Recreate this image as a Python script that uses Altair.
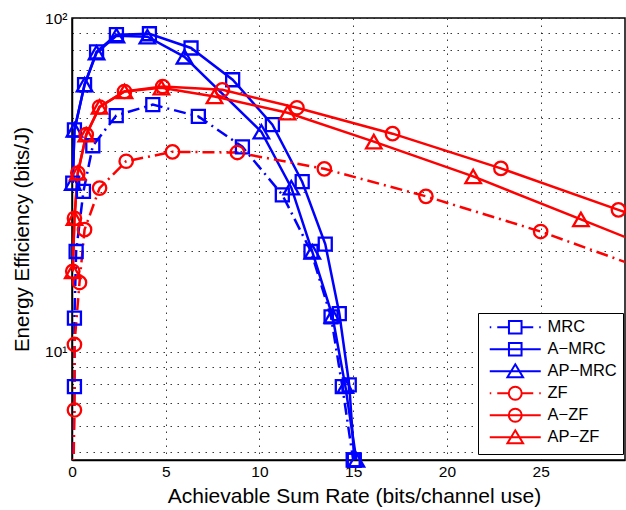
import altair as alt
import pandas as pd

SERIES = ["MRC", "A−MRC", "AP−MRC", "ZF", "A−ZF", "AP−ZF"]
COLORS = ["#0000ff", "#0000ff", "#0000ff", "#ff0000", "#ff0000", "#ff0000"]
BLUE = "#0000ff"
RED = "#ff0000"

MRC_X = [0.02, 0.13, 0.13, 0.22, 0.61, 1.11, 2.36, 4.31, 6.74, 9.09, 11.22, 12.75, 13.82, 14.42, 15.0]
MRC_Y = [3.0, 7.85, 12.6, 19.95, 30.2, 41.4, 51.0, 55.0, 50.7, 41.1, 29.5, 19.95, 12.7, 7.85, 4.73]

A_MRC_X = [0.04, 0.13, 0.67, 1.31, 2.37, 4.13, 6.35, 8.57, 10.69, 12.28, 13.51, 14.26, 14.79, 15.06]
A_MRC_Y = [32.0, 46.2, 63.1, 79.2, 89.1, 89.7, 81.3, 65.3, 47.9, 32.3, 21.0, 13.0, 7.94, 4.73]

AP_MRC_X = [0.04, 0.13, 0.67, 1.31, 2.37, 4.02, 6.0, 10.1, 11.7, 12.82, 13.89, 14.58, 15.17]
AP_MRC_Y = [32.0, 46.2, 63.1, 78.7, 88.5, 87.9, 76.5, 45.6, 31.0, 19.9, 12.8, 7.88, 4.73]

ZF_X = [0.03, 0.13, 0.13, 0.4, 0.67, 1.47, 2.89, 5.36, 8.82, 13.46, 18.88, 25.0, 31.5]
ZF_Y = [3.0, 6.68, 10.5, 16.1, 23.2, 30.9, 37.2, 39.7, 39.5, 35.3, 29.2, 22.9, 16.9]

A_ZF_X = [0.04, 0.13, 0.31, 0.76, 1.47, 2.8, 4.84, 8.02, 12.0, 17.1, 22.88, 29.15, 35.0]
A_ZF_Y = [17.4, 25.1, 34.3, 44.7, 54.1, 60.2, 62.3, 60.9, 53.8, 45.0, 35.4, 26.6, 20.3]

AP_ZF_X = [0.04, 0.13, 0.31, 0.76, 1.47, 2.8, 4.77, 7.6, 11.5, 16.1, 21.4, 27.15, 33.0]
AP_ZF_Y = [17.4, 25.1, 34.3, 44.7, 54.1, 60.2, 61.8, 58.2, 52.0, 42.6, 33.5, 24.9, 18.4]

X_TICKS = [0, 5, 10, 15, 20, 25]
Y_GRID = [5, 6, 7, 8, 9, 10, 20, 30, 40, 50, 60, 70, 80, 90, 100]

DASHDOT_PATTERN = [12, 5, 2, 5]

# legend symbols: line + marker (custom SVG paths, unit = 6 px)
SQ = "M-1.05,-1.05H1.05V1.05H-1.05Z"
CI = "M1.08,0A1.08,1.08,0,1,1,-1.08,0A1.08,1.08,0,1,1,1.08,0Z"
TR = "M0,-1.15L1.3,1.0L-1.3,1.0Z"
SOLID = "M-4.25,0H4.25"
DASHDOT = "M-4.25,0H-4.0M-3.0,0H-1.05M1.05,0H3.0M4.0,0H4.25"
LEG_PATHS = [DASHDOT + SQ, SOLID + SQ, SOLID + TR, DASHDOT + CI, SOLID + CI, SOLID + TR]

rows = []
for name, xs, ys in [
    ("MRC", MRC_X, MRC_Y), ("A−MRC", A_MRC_X, A_MRC_Y), ("AP−MRC", AP_MRC_X, AP_MRC_Y),
    ("ZF", ZF_X, ZF_Y), ("A−ZF", A_ZF_X, A_ZF_Y), ("AP−ZF", AP_ZF_X, AP_ZF_Y),
]:
    for i, (x, y) in enumerate(zip(xs, ys)):
        rows.append({"series": name, "x": x, "y": y, "i": i})
df = pd.DataFrame(rows)

FONT = "Liberation Sans"

xsc = alt.Scale(domain=[0, 29.5], nice=False, zero=False)
ysc = alt.Scale(type="log", domain=[4.73, 100], nice=False)

xaxis = alt.Axis(values=X_TICKS, grid=True, gridDash=[1.5, 5.5], gridColor="#222222", gridOpacity=0.9,
                 ticks=False, labelFont=FONT, labelFontSize=15.5, labelColor="black", labelPadding=4,
                 labelFlush=False, domainColor="black", domainWidth=1.5,
                 title="Achievable Sum Rate (bits/channel use)", titleFont=FONT, titleFontSize=21,
                 titleFontWeight="normal", titleColor="black", titlePadding=6, titleX=282)
yaxis = alt.Axis(values=Y_GRID, grid=True, gridDash=[1.5, 5.5], gridColor="#222222", gridOpacity=0.9,
                 ticks=False, labelFont=FONT, labelFontSize=15.5, labelColor="black", labelPadding=5,
                 labelFlush=False, labelOverlap=False, domainColor="black", domainWidth=1.5,
                 labelExpr="datum.value == 10 ? '10¹' : (datum.value == 100 ? '10²' : '')",
                 title="Energy Efficiency (bits/J)", titleFont=FONT, titleFontSize=20.5,
                 titleFontWeight="normal", titleColor="black", titlePadding=12)

X = alt.X("x:Q", scale=xsc, axis=xaxis)
Y = alt.Y("y:Q", scale=ysc, axis=yaxis)


def line_layer(names, col, dash=None):
    props = dict(clip=True, strokeWidth=2.5, color=col)
    if dash is not None:
        props["strokeDash"] = dash
    return alt.Chart(df).transform_filter(
        alt.FieldOneOfPredicate(field="series", oneOf=names)
    ).mark_line(**props).encode(x=X, y=Y, detail="series:N", order="i:Q")


pts = alt.Chart(df).transform_filter("datum.x <= 29.5 && datum.y >= 4.7")


def marker_layer(names, shape, size, col):
    return pts.transform_filter(alt.FieldOneOfPredicate(field="series", oneOf=names)).mark_point(
        shape=shape, size=size, filled=False, strokeWidth=2.3, opacity=1, clip=False, color=col
    ).encode(x=X, y=Y)


legend_args = dict(title=None, orient="none", legendX=406, legendY=295, fillColor="white",
                   strokeColor="black", padding=6, symbolOffset=23, symbolSize=144,
                   symbolStrokeWidth=2, labelFont=FONT, labelFontSize=16.5, labelColor="black",
                   rowPadding=0, labelOffset=24, labelLimit=300)

# legend-only layer: its points lie beyond the x range and are clipped away
leg = alt.Chart(df).transform_filter("datum.x > 30").mark_point(
    filled=False, strokeWidth=2, opacity=1, clip=True
).encode(
    x=X, y=Y,
    color=alt.Color("series:N", scale=alt.Scale(domain=SERIES, range=COLORS),
                    legend=alt.Legend(**legend_args)),
    shape=alt.Shape("series:N", scale=alt.Scale(domain=SERIES, range=LEG_PATHS),
                    legend=alt.Legend(**legend_args)),
)

chart = alt.layer(
    line_layer(["MRC"], BLUE, DASHDOT_PATTERN),
    line_layer(["A−MRC", "AP−MRC"], BLUE),
    line_layer(["ZF"], RED, DASHDOT_PATTERN),
    line_layer(["A−ZF", "AP−ZF"], RED),
    marker_layer(["MRC", "A−MRC"], "square", 169, BLUE),
    marker_layer(["AP−MRC"], "triangle-up", 240, BLUE),
    marker_layer(["ZF", "A−ZF"], "circle", 180, RED),
    marker_layer(["AP−ZF"], "triangle-up", 240, RED),
    leg,
).properties(
    width=553, height=442,
    autosize=alt.AutoSizeParams(type="none"),
    padding={"left": 72, "top": 18, "right": 1, "bottom": 50},
    background="white",
).configure_view(stroke="black", strokeWidth=1.5)

chart.save("out.html", embed_options={"renderer": "svg", "actions": False})
